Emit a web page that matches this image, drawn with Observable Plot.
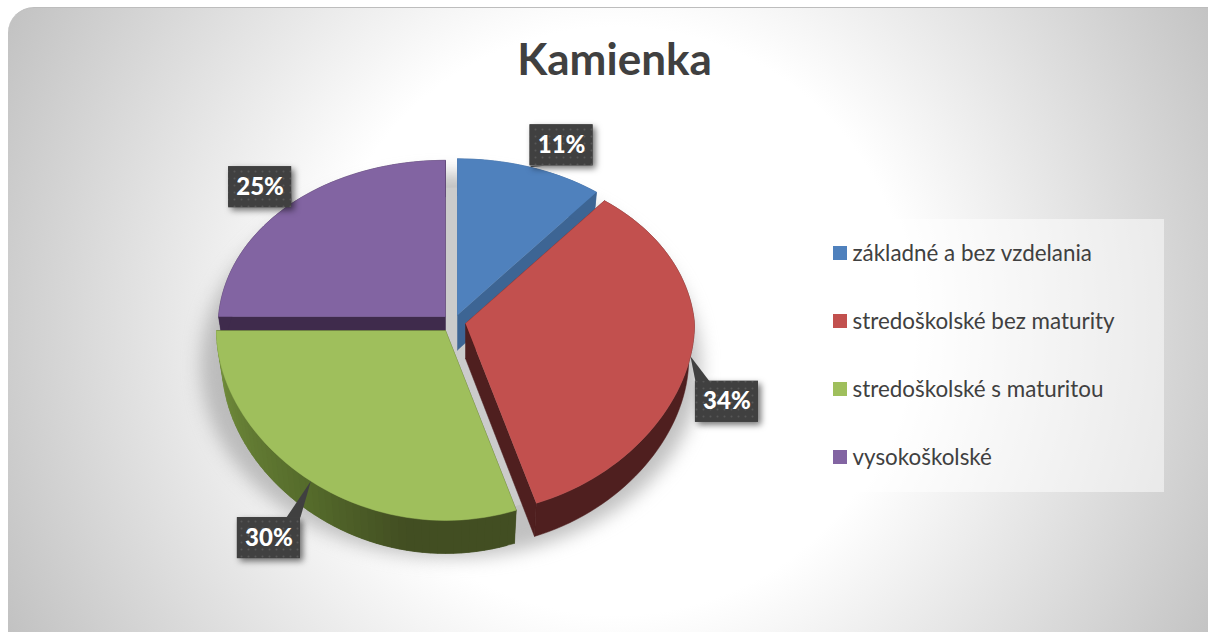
<!DOCTYPE html>
<html><head><meta charset="utf-8">
<script src="https://cdn.jsdelivr.net/npm/d3@7"></script>
<script src="https://cdn.jsdelivr.net/npm/@observablehq/plot@0.6"></script>
<style>
html,body{margin:0;padding:0;background:#fff;width:1208px;height:632px;overflow:hidden}
#card{position:absolute;left:8px;top:7px;width:1240px;height:660px;border-radius:26px;border-top:1px solid #bdbdbd;box-sizing:border-box;
background:radial-gradient(circle 700px at 608px 313px,#fff 0%,#fff 42%,#bfbfbf 100%)}
#chart{position:absolute;left:0;top:0}
</style></head><body>
<div id="card"></div><div id="chart"></div>
<script>
const title = "Kamienka";
const categories = ["základné a bez vzdelania","stredoškolské bez maturity","stredoškolské s maturitou","vysokoškolské"];
const shares = [11,34,30,25];
const topColors = ["#4f81bd","#c2504e","#9fbf5c","#8264a2"];
const wallColors = ["#3d6594","#4f1f1f","#424e22","#3f2b4c"];

// layout of the exploded wedges (centre of each wedge's top face)
const apexX = [457,465,445,445], apexY = [314.5,323,330,316];
const radiusX = [229,229,229,227];
const RY = 171, PERSP = 0.095, DEPTH = 35, BASE_X = 0.975, BASE_Y = 0.99;
const labelDx = [31,36.5,-42,-32], labelDy = [-22,45.5,57,-16];
const boxW = 63, boxH = 41;

// perspective projection of a rim point at clockwise angle t (radians from top)
function rim(i, t, base=false) {
  const X = Math.sin(t), Y = -Math.cos(t);
  const w = 1/(1 - PERSP*Y), wx = Math.min(1, Math.pow(w,0.7));
  return [apexX[i] + radiusX[i]*X*wx*(base?BASE_X:1), apexY[i] + (base?DEPTH:0) + (Y>0?RY*1.005:RY)*Y*w*(base?BASE_Y:1)];
}
const tau = 2*Math.PI;
let cum = 0;
const wedges = shares.map((s,i)=>{const a0=cum/100*tau; cum+=s; return {i,a0,a1:cum/100*tau,mid:(a0+s/200*tau)};});
const rows = []; let id = 0;
function poly(pts,c){id++; pts.forEach(p=>rows.push({x:p[0],y:p[1],id,c}));}
const greenRamp = d3.scaleLinear().domain([0,0.5,0.75,1]).range(["#76923f","#556b2b","#424e22","#424e22"]);
for (const k of [0,3,1,2]) {
  const w = wedges[k], i = w.i, n = Math.ceil((w.a1-w.a0)/(tau/180));
  const ang = d3.range(n+1).map(j=>w.a0+(w.a1-w.a0)*j/n);
  const A=[apexX[i],apexY[i]], B=[apexX[i],apexY[i]+DEPTH];
  // side faces
  poly([A,rim(i,w.a0),rim(i,w.a0,true),B],wallColors[i]);
  poly([A,rim(i,w.a1),rim(i,w.a1,true),B],wallColors[i]);
  // rim wall: a shaded ramp of overlapping strips on the green wedge, one piece otherwise
  if (i===2) {
    for (let j=0;j<n;j++){
      const e = Math.min(n,j+2);
      poly([rim(i,ang[j]),rim(i,ang[e]),rim(i,ang[e],true),rim(i,ang[j],true)],greenRamp(1-j/n));
    }
  } else {
    poly([...ang.map(a=>rim(i,a)),...ang.slice().reverse().map(a=>rim(i,a,true))],wallColors[i]);
  }
  // top face
  poly([A,...ang.map(a=>rim(i,a))],topColors[i]);
}
const ell = (cx,cy,rx,ry)=>d3.range(0,361,3).map(d=>[cx+rx*Math.cos(d*Math.PI/180),cy+ry*Math.sin(d*Math.PI/180)]);
const softShadow = ell(450,365,250,192).map(p=>({x:p[0],y:p[1]}));
const innerShadow = ell(455,350,200,163).map(p=>({x:p[0],y:p[1]}));

const labels = wedges.map(w=>{
  const i=w.i, tip=rim(i,w.mid), cx=tip[0]+labelDx[i], cy=tip[1]+labelDy[i];
  return {text:shares[i]+"%",tip,cx,cy,x1:cx-boxW/2,x2:cx+boxW/2,y1:cy-boxH/2,y2:cy+boxH/2};
});
const pointerRows = labels.flatMap((l,n)=>{
  const ex=Math.max(l.x1,Math.min(l.x2,l.tip[0])), ey=Math.max(l.y1,Math.min(l.y2,l.tip[1]));
  const horiz = ey===l.y1||ey===l.y2;
  const sx = ex<l.cx?1:-1, sy = ey<l.cy?1:-1;
  const pts = horiz ? [l.tip,[ex,ey],[ex+sx*14,ey]] : [l.tip,[ex,ey],[ex,ey+sy*14]];
  return pts.map(p=>({x:p[0],y:p[1],n}));
});
const legendY = [253,321,389,457];
const legendRows = categories.map((name,i)=>({name,y:legendY[i],c:topColors[i]}));

const defs = () => {
  const d = d3.create("svg:defs");
  const p = d.append("pattern").attr("id","dots").attr("width",7).attr("height",7).attr("patternUnits","userSpaceOnUse");
  p.append("rect").attr("width",7).attr("height",7).attr("fill","#404040");
  p.append("circle").attr("cx",3.5).attr("cy",3.5).attr("r",1).attr("fill","#575757");
  return d.node();
};
const font = "Lato, 'Open Sans', sans-serif";
const chart = Plot.plot({
  width:1208,height:632,margin:0,
  style:{background:"transparent"},
  x:{domain:[0,1208],range:[0,1208],axis:null},
  y:{domain:[0,632],range:[0,632],axis:null},
  color:{type:"identity"},
  marks:[
    defs,
    Plot.line(softShadow,{x:"x",y:"y",fill:"#a0a0a0",fillOpacity:0.65,stroke:null,imageFilter:"blur(9px)"}),
    Plot.line(innerShadow,{x:"x",y:"y",fill:"#cbcbcb",stroke:null}),
    Plot.line(rows,{x:"x",y:"y",z:"id",fill:"c",stroke:"c",strokeWidth:0.5}),
    Plot.rect(labels,{x1:"x1",x2:"x2",y1:"y1",y2:"y2",fill:"#404040",imageFilter:"drop-shadow(3px 3px 3px rgba(0,0,0,0.55))"}),
    Plot.line(pointerRows,{x:"x",y:"y",z:"n",fill:"#404040",stroke:null}),
    Plot.rect(labels,{x1:"x1",x2:"x2",y1:"y1",y2:"y2",fill:"url(#dots)"}),
    Plot.text(labels,{x:"cx",y:"cy",text:"text",fill:"#fff",fontSize:24,fontWeight:900,fontFamily:font}),
    Plot.text([title],{x:[614],y:[60],text:d=>d,fill:"#404040",fontSize:44,fontWeight:700,fontFamily:font}),
    Plot.rect([0],{x1:[781],x2:[1164],y1:[219],y2:[492],fill:"#fff",fillOpacity:0.5}),
    Plot.rect(legendRows,{x1:()=>833,x2:()=>847,y1:d=>d.y-7,y2:d=>d.y+7,fill:"c"}),
    Plot.text(legendRows,{x:()=>852,y:"y",text:"name",textAnchor:"start",fill:"#404040",fontSize:22.4,fontFamily:font})
  ]
});
document.getElementById("chart").appendChild(chart);
</script></body></html>
